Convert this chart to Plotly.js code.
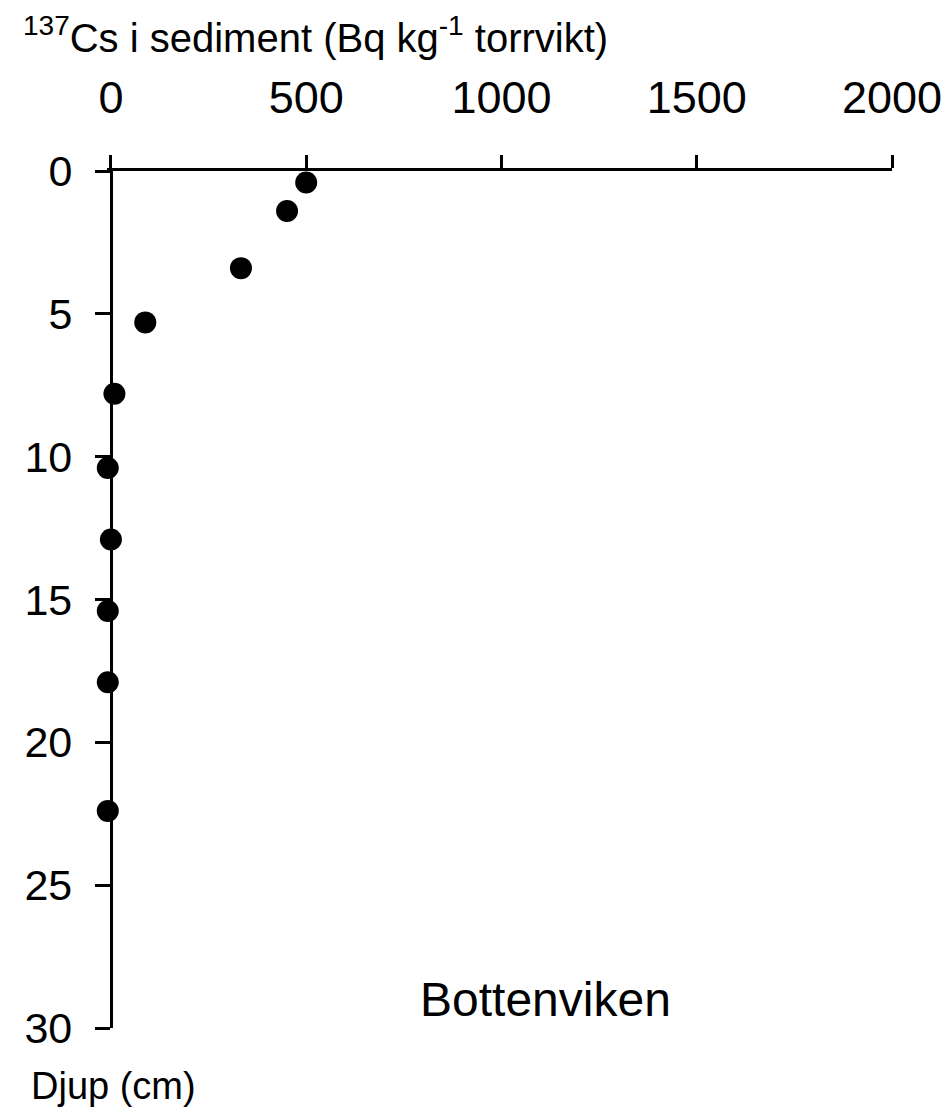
<!DOCTYPE html>
<html>
<head>
<meta charset="utf-8">
<script src="https://cdn.plot.ly/plotly-3.0.1.min.js"></script>
<style>html,body{margin:0;padding:0;background:#fff;}#chart{width:950px;height:1108px;}</style>
</head>
<body>
<div id="chart"></div>
<script>
// Data
const activity = [500, 451, 333, 88, 9, -8, 0, -8, -8, -8];          // 137Cs (Bq kg-1 torrvikt)
const depth    = [0.4, 1.4, 3.4, 5.3, 7.8, 10.4, 12.9, 15.4, 17.9, 22.4]; // Djup (cm)
const xTicks = [0, 500, 1000, 1500, 2000];
const yTicks = [0, 5, 10, 15, 20, 25, 30];
const xTitle = '<sup>137</sup>Cs i sediment (Bq kg<sup>-1</sup> torrvikt)';
const yTitle = 'Djup (cm)';
const siteLabel = 'Bottenviken';

const FONT = 'Liberation Sans, Arial, sans-serif';
const X_MIN = -10, X_MAX = 2000;
// y axis line sits at x = 0 inside the slightly extended x range
const yAxisPos = (0 - X_MIN) / (X_MAX - X_MIN);

const trace = {
  x: activity, y: depth, type: 'scatter', mode: 'markers',
  marker: {color: '#000', size: 22},
  cliponaxis: false, hoverinfo: 'x+y', showlegend: false
};

const layout = {
  width: 950, height: 1108,
  margin: {l: 107, r: 58, t: 171, b: 80},
  paper_bgcolor: '#fff', plot_bgcolor: '#fff',
  font: {family: FONT, color: '#000'},
  xaxis: {
    side: 'top', range: [X_MIN, X_MAX], tickvals: xTicks, ticktext: xTicks.map(String),
    showline: true, linewidth: 3, linecolor: '#000', mirror: false,
    ticks: 'outside', ticklen: 13, tickwidth: 3, tickcolor: '#000',
    showgrid: false, zeroline: false,
    tickfont: {size: 45, family: FONT, color: '#000'},
    ticklabelstandoff: 24
  },
  yaxis: {
    autorange: false, range: [30, 0], tickvals: yTicks, ticktext: yTicks.map(String),
    anchor: 'free', position: yAxisPos,
    showline: true, linewidth: 3, linecolor: '#000',
    ticks: 'outside', ticklen: 15, tickwidth: 3, tickcolor: '#000',
    showgrid: false, zeroline: false,
    tickfont: {size: 43, family: FONT, color: '#000'},
    ticklabelstandoff: 14
  },
  annotations: [
    {text: xTitle, xref: 'paper', yref: 'paper', x: -0.110, y: 1.127, xanchor: 'left', yanchor: 'bottom',
     showarrow: false, font: {size: 40, family: FONT, color: '#000'}},
    {text: yTitle, xref: 'paper', yref: 'paper', x: -0.099, y: -0.041, xanchor: 'left', yanchor: 'top',
     showarrow: false, font: {size: 38, family: FONT, color: '#000'}},
    {text: siteLabel, xref: 'x', yref: 'y', x: 1114, y: 29.0, xanchor: 'center', yanchor: 'middle',
     showarrow: false, font: {size: 48, family: FONT, color: '#000'}}
  ]
};

Plotly.newPlot('chart', [trace], layout, {staticPlot: true, displayModeBar: false});
</script>
</body>
</html>
